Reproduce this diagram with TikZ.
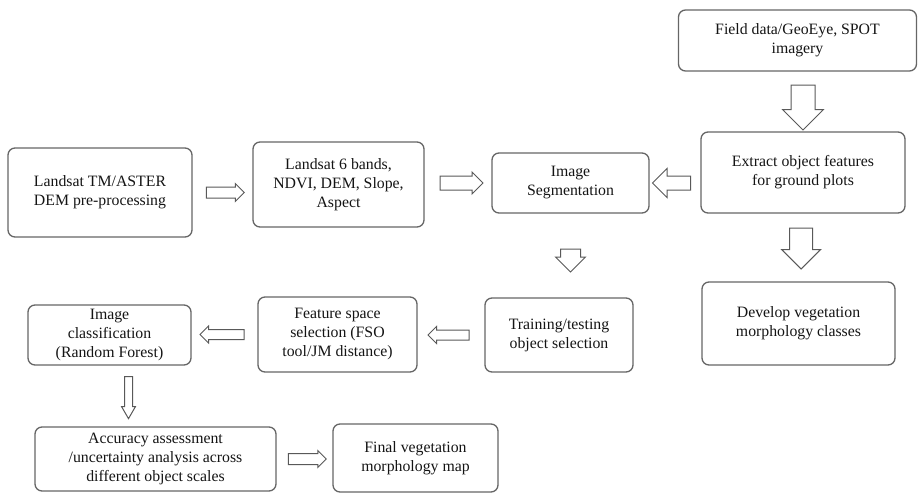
\documentclass[tikz,border=0pt]{standalone}
\usepackage{fontspec}
\setmainfont{Liberation Serif}
\usetikzlibrary{shapes.arrows}
\begin{document}
\begin{tikzpicture}[x=1pt, y=-1pt,
    box/.style={draw=black!60, line width=1.3pt, rounded corners=7pt,
      align=center, inner sep=2pt, text=black!92,
      font=\fontsize{15.8}{19}\selectfont},
    blk/.style={single arrow, draw=black!65, line width=1pt, fill=white,
      inner xsep=0pt, anchor=center}]
  \useasboundingbox (0,0) rectangle (922,493);
  % boxes
  \node[box, minimum width=184pt, minimum height=89pt] (land) at (100,192.5)
    {Landsat TM/ASTER\\DEM pre-processing};
  \node[box, minimum width=171pt, minimum height=85pt] (bands) at (338.5,184.5)
    {Landsat 6 bands,\\NDVI, DEM, Slope,\\Aspect};
  \node[box, minimum width=157pt, minimum height=60pt] (seg) at (570.5,183)
    {Image\\Segmentation};
  \node[box, minimum width=238pt, minimum height=61pt] (field) at (797.5,40.5)
    {Field data/GeoEye, SPOT\\imagery};
  \node[box, minimum width=204pt, minimum height=81pt] (extract) at (803,172.5)
    {Extract object features\\for ground plots};
  \node[box, minimum width=193pt, minimum height=83pt] (develop) at (798.5,323.5)
    {Develop vegetation\\morphology classes};
  \node[box, minimum width=148pt, minimum height=74pt] (train) at (559,335)
    {Training/testing\\object selection};
  \node[box, minimum width=159pt, minimum height=75pt] (feature) at (337.5,334.5)
    {Feature space\\selection (FSO\\tool/JM distance)};
  \node[box, minimum width=163pt, minimum height=60pt] (classif) at (109.5,335)
    {Image\\classification\\(Random Forest)};
  \node[box, minimum width=241pt, minimum height=64pt] (accuracy) at (155.5,459)
    {Accuracy assessment\\/uncertainty analysis across\\different object scales};
  \node[box, minimum width=165pt, minimum height=68pt] (final) at (415.5,458)
    {Final vegetation\\morphology map};
  % block arrows
  \path (land.east) -- (land.east -| bands.west)
    node[midway, blk, minimum height=38pt, inner ysep=5pt,
      single arrow head extend=3.5pt] (a1) {};
  \path (seg.west -| bands.east) -- (seg.west)
    node[midway, blk, minimum height=43pt, inner ysep=6.5pt,
      single arrow head extend=4pt] (a2) {};
  \path (extract.north |- field.south) -- (extract.north)
    node[midway, blk, rotate=-90, minimum height=45pt, inner ysep=11.5pt,
      single arrow head extend=8.5pt] (a3) {};
  \path (seg.east -| extract.west) -- (seg.east)
    node[midway, blk, rotate=180, minimum height=38pt, inner ysep=6.5pt,
      single arrow head extend=7.5pt] (a4) {};
  \path (extract.south) -- (develop.north)
    node[pos=0.43, blk, rotate=-90, minimum height=41pt, inner ysep=11pt,
      single arrow head extend=8pt] (a5) {};
  \path (seg.south) -- (seg.south |- train.north)
    node[midway, blk, rotate=-90, minimum height=23pt, inner ysep=9.5pt,
      single arrow head extend=5pt] (a6) {};
  \path (train.west) -- (train.west -| feature.east)
    node[midway, blk, rotate=180, minimum height=41pt, inner ysep=4.5pt,
      single arrow head extend=3.5pt] (a7) {};
  \path (feature.west) -- (feature.west -| classif.east)
    node[midway, blk, rotate=180, minimum height=44pt, inner ysep=4.5pt,
      single arrow head extend=3.5pt] (a8) {};
  \path ([xshift=19pt]classif.south) -- ([xshift=19pt]classif.south |- accuracy.north)
    node[pos=0.47, blk, rotate=-90, minimum height=42pt, inner ysep=3.5pt,
      single arrow head extend=3pt, single arrow tip angle=60] (a9) {};
  \path (accuracy.east) -- (accuracy.east -| final.west)
    node[midway, blk, minimum height=38pt, inner ysep=5pt,
      single arrow head extend=3pt] (a10) {};
\end{tikzpicture}
\end{document}
